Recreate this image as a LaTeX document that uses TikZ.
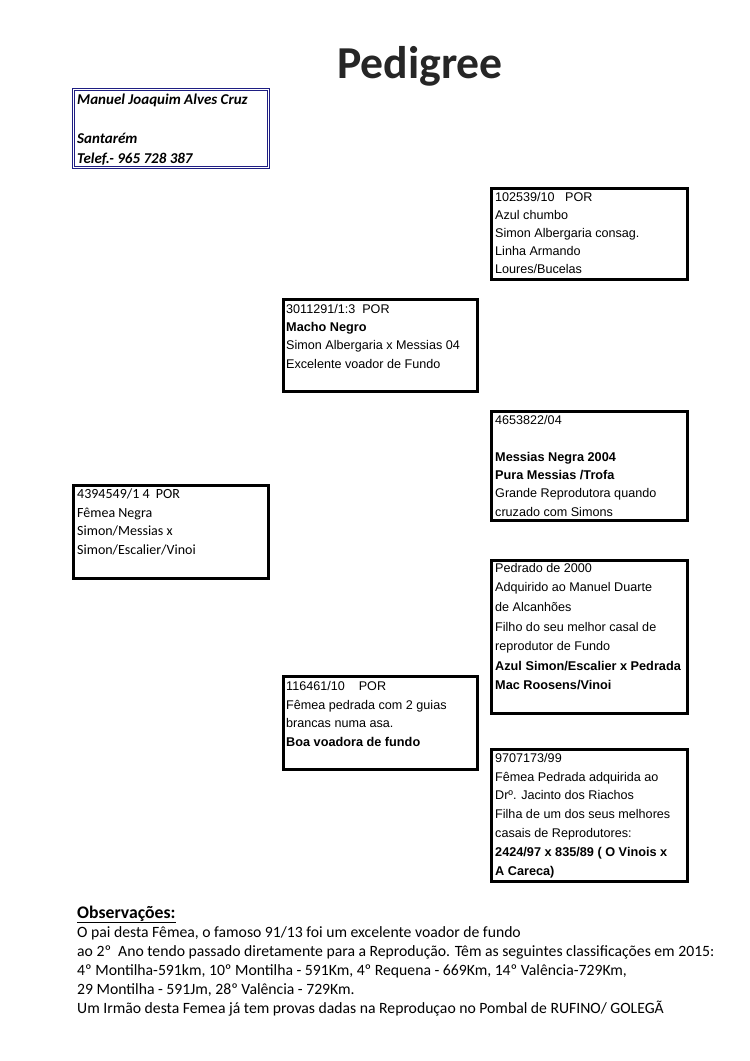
\documentclass[tikz,border=0pt]{standalone}
\usepackage{fontspec}
\setmainfont{Carlito}
\newfontfamily\arialf{Liberation Sans}
\usetikzlibrary{calc}
\definecolor{navy}{RGB}{30,30,130}
\definecolor{titlegray}{RGB}{38,38,38}
\newcommand{\bx}[1]{{\fontsize{12.7}{\baselineskip}\selectfont\bfseries #1}}
\begin{document}
\begin{tikzpicture}[x=1pt,y=-1pt,
  pbox/.style={draw=black, line width=2.8pt, anchor=north west, inner sep=0pt, outer sep=0pt},
  ownbox/.style={draw=navy, double=white, line width=1.1pt, double distance=1.4pt, anchor=north west, inner sep=0pt, outer sep=0pt},
  atxt/.style={anchor=north west, inner sep=0pt, align=left, font=\arialf\fontsize{12.6}{#1}\selectfont},
  ctxt/.style={anchor=north west, inner sep=0pt, align=left, font=\fontsize{14}{#1}\selectfont},
]
\useasboundingbox[fill=white] (0,0) rectangle (750,1061);

% title
\node[anchor=base, inner sep=0pt, text=titlegray, font=\bfseries\fontsize{45.7}{50}\selectfont] (title) at (420,78) {Pedigree};

% owner box
\node[ownbox, minimum width=195pt, minimum height=78pt] (own) at (73.5,89.5) {};
\node[ctxt=19.5, font=\bfseries\itshape\fontsize{15}{19.5}\selectfont] (owntxt) at (77,94) {Manuel Joaquim Alves Cruz\\ \mbox{}\\ Santarém\\ Telef.- 965 728 387};

% gen 3 boxes
\node[pbox, minimum width=196pt, minimum height=91pt] (A) at (491.5,188.5) {};
\node[atxt=18] (Atxt) at (495,192) {102539/10\ \ \ POR\\ Azul chumbo\\ Simon Albergaria consag.\\ Linha Armando\\ Loures/Bucelas};

\node[pbox, minimum width=196pt, minimum height=109pt] (C) at (491.5,411.5) {};
\node[atxt=18.4] (Ctxt) at (495,415) {4653822/04\\ \mbox{}\\ \bx{Messias Negra 2004}\\ \bx{Pura Messias /Trofa}\\ Grande Reprodutora quando\\ cruzado com Simons};

\node[pbox, minimum width=196pt, minimum height=153pt] (E) at (491.5,560.5) {};
\node[atxt=19.6] (Etxt) at (495,563) {Pedrado de 2000\\ Adquirido ao Manuel Duarte\\ de Alcanhões\\ Filho do seu melhor casal de\\ reprodutor de Fundo\\ \bx{Azul Simon/Escalier x Pedrada}\\ \bx{Mac Roosens/Vinoi}};

\node[pbox, minimum width=196pt, minimum height=132pt] (G) at (491.5,749.5) {};
\node[atxt=18.8] (Gtxt) at (495,753) {9707173/99\\ Fêmea Pedrada adquirida ao\\ Drº. Jacinto dos Riachos\\ Filha de um dos seus melhores\\ casais de Reprodutores:\\ \bx{2424/97 x 835/89 ( O Vinois x}\\ \bx{A Careca)}};

% gen 2 boxes
\node[pbox, minimum width=194pt, minimum height=92pt] (B) at (283.5,299.5) {};
\node[atxt=18.3] (Btxt) at (286,304) {3011291/1:3\ \ POR\\ \bx{Macho Negro}\\ Simon Albergaria x Messias 04\\ Excelente voador de Fundo};

\node[pbox, minimum width=194pt, minimum height=93pt] (F) at (283.5,676.5) {};
\node[atxt=18.7] (Ftxt) at (286,681) {116461/10\ \ \ \ POR\\ Fêmea pedrada com 2 guias\\ brancas numa asa.\\ \bx{Boa voadora de fundo}};

% subject
\node[pbox, minimum width=195pt, minimum height=93pt] (D) at (73.5,485.5) {};
\node[ctxt=18.5] (Dtxt) at (77,489) {4394549/1 4\ \ POR\\ Fêmea Negra\\ Simon/Messias x\\ Simon/Escalier/Vinoi};

% observations
\node[anchor=base west, inner sep=0pt, font=\bfseries\fontsize{17.7}{20}\selectfont] (obs) at (77,918) {\underline{Observações:}};
\node[ctxt=19, font=\fontsize{15.7}{19.1}\selectfont] (obstxt) at (77,926) {O pai desta Fêmea, o famoso 91/13 foi um excelente voador de fundo\\ ao 2º\ \ Ano tendo passado diretamente para a Reprodução. Têm as seguintes classificações em 2015:\\ 4º Montilha-591km, 10º Montilha - 591Km, 4º Requena - 669Km, 14º Valência-729Km,\\ 29 Montilha - 591Jm, 28º Valência - 729Km.\\ Um Irmão desta Femea já tem provas dadas na Reproduçao no Pombal de RUFINO/ GOLEGÃ};
\end{tikzpicture}
\end{document}
